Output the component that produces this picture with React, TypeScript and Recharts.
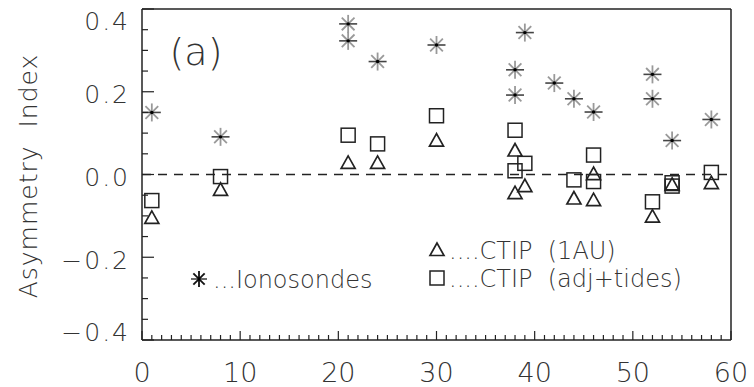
import React from 'react';
import { ScatterChart, Scatter, XAxis, YAxis, ReferenceLine, Customized } from 'recharts';

// latitude-ish bins along x, asymmetry index along y
const ionosondes = [
  { x: 1, y: 0.15 }, { x: 8, y: 0.091 }, { x: 21, y: 0.364 }, { x: 21, y: 0.323 },
  { x: 24, y: 0.273 }, { x: 30, y: 0.313 }, { x: 38, y: 0.253 }, { x: 38, y: 0.192 },
  { x: 39, y: 0.343 }, { x: 42, y: 0.221 }, { x: 44, y: 0.183 }, { x: 46, y: 0.151 },
  { x: 52, y: 0.242 }, { x: 52, y: 0.183 }, { x: 54, y: 0.082 }, { x: 58, y: 0.133 },
];

const ctip1AU = [
  { x: 1, y: -0.105 }, { x: 8, y: -0.037 }, { x: 21, y: 0.028 }, { x: 24, y: 0.028 },
  { x: 30, y: 0.082 }, { x: 38, y: 0.058 }, { x: 38, y: -0.045 }, { x: 39, y: -0.028 },
  { x: 44, y: -0.058 }, { x: 46, y: 0.001 }, { x: 46, y: -0.062 }, { x: 52, y: -0.102 },
  { x: 54, y: -0.025 }, { x: 58, y: -0.021 },
];

const ctipAdjTides = [
  { x: 1, y: -0.063 }, { x: 8, y: -0.005 }, { x: 21, y: 0.095 }, { x: 24, y: 0.074 },
  { x: 30, y: 0.142 }, { x: 38, y: 0.107 }, { x: 38, y: 0.009 }, { x: 39, y: 0.027 },
  { x: 44, y: -0.013 }, { x: 46, y: 0.047 }, { x: 46, y: -0.017 }, { x: 52, y: -0.066 },
  { x: 54, y: -0.02 }, { x: 54, y: -0.028 }, { x: 58, y: 0.005 },
];

const xTicks = Array.from({ length: 61 }, (_, i) => i);
const yTicks = [-0.4, -0.35, -0.3, -0.25, -0.2, -0.15, -0.1, -0.05, 0, 0.05, 0.1, 0.15, 0.2, 0.25, 0.3, 0.35, 0.4];
const yMajor = [-0.4, -0.2, 0, 0.2, 0.4];

const FONT = '"DejaVu Sans", sans-serif';
const INK = '#222';
const TXT = '#333';

const Asterisk = ({ cx, cy, r = 9, arm = '#999' }: any) => {
  const d = r * 0.707;
  return (
    <g>
      <line x1={cx} x2={cx} y1={cy - r} y2={cy + r} stroke={arm} strokeWidth={1.8} />
      <line x1={cx - d} x2={cx + d} y1={cy - d} y2={cy + d} stroke={arm} strokeWidth={1.8} />
      <line x1={cx - d} x2={cx + d} y1={cy + d} y2={cy - d} stroke={arm} strokeWidth={1.8} />
      <line x1={cx - r} x2={cx + r} y1={cy} y2={cy} stroke="#444" strokeWidth={1.6} />
      <circle cx={cx} cy={cy} r={1.7} fill="#000" />
    </g>
  );
};

const Triangle = ({ cx, cy }: any) => (
  <polygon
    points={`${cx},${cy - 7} ${cx - 7},${cy + 5.5} ${cx + 7},${cy + 5.5}`}
    fill="none" stroke={INK} strokeWidth={1.7}
  />
);

const Square = ({ cx, cy }: any) => (
  <rect x={cx - 7} y={cy - 7} width={14} height={14} fill="none" stroke={INK} strokeWidth={1.5} />
);

const BottomTick = ({ x, y, payload }: any) => {
  const major = payload.value % 10 === 0;
  return (
    <g>
      <line x1={x} x2={x} y1={y} y2={y - (major ? 9 : 5)} stroke={INK} strokeWidth={1.2} />
      {major && (
        <text x={x} y={y + 32} textAnchor="middle" dominantBaseline="central"
          fontFamily={FONT} fontWeight={300} fontSize={27} fill={TXT}>
          {payload.value}
        </text>
      )}
    </g>
  );
};

const TopTick = ({ x, y, payload }: any) => {
  const major = payload.value % 10 === 0;
  return <line x1={x} x2={x} y1={y} y2={y + (major ? 9 : 5)} stroke={INK} strokeWidth={1.2} />;
};

const isMajorY = (v: number) => yMajor.some((m) => Math.abs(m - v) < 1e-6);

const LeftTick = ({ x, y, payload }: any) => {
  const major = isMajorY(payload.value);
  const ly = Math.min(Math.max(y + 3, 21), 332);
  return (
    <g>
      <line x1={x} x2={x + (major ? 12 : 6)} y1={y} y2={y} stroke={INK} strokeWidth={1.2} />
      {major && (
        <text x={x - 12} y={ly} textAnchor="end" dominantBaseline="central" letterSpacing={2}
          fontFamily={FONT} fontWeight={300} fontSize={25} fill={TXT}>
          {payload.value.toFixed(1).replace('-', '\u2212')}
        </text>
      )}
    </g>
  );
};

const RightTick = ({ x, y, payload }: any) => {
  const major = isMajorY(payload.value);
  return <line x1={x} x2={x - (major ? 12 : 6)} y1={y} y2={y} stroke={INK} strokeWidth={1.2} />;
};

const Decorations = () => {
  const txt = { fontFamily: FONT, fontWeight: 300, fill: TXT, style: { whiteSpace: 'pre' as const } };
  return (
    <g>
      <text x={37} y={176} transform="rotate(-90 37 176)" textAnchor="middle" fontSize={25}
        letterSpacing={1} {...txt}>
        Asymmetry  Index
      </text>
      <text x={196} y={52} textAnchor="middle" dominantBaseline="central" fontSize={38} {...txt}>(a)</text>
      <g>
        <Asterisk cx={199} cy={279} r={8} arm="#111" />
        <text x={213} y={280} dominantBaseline="central" fontSize={24} {...txt}>...Ionosondes</text>
      </g>
      <g>
        <Triangle cx={437} cy={250} />
        <text x={449} y={251} dominantBaseline="central" fontSize={24} {...txt}>....CTIP  (1AU)</text>
      </g>
      <g>
        <Square cx={437} cy={278} />
        <text x={449} y={279} dominantBaseline="central" fontSize={24} {...txt}>....CTIP  (adj+tides)</text>
      </g>
    </g>
  );
};

export default function App() {
  return (
    <div style={{ position: 'absolute', left: 0, top: 0, width: 754, height: 387, background: '#fff' }}>
      <ScatterChart width={754} height={387} margin={{ top: 8, right: 22, bottom: 46, left: 141 }}>
        <XAxis xAxisId="b" type="number" dataKey="x" domain={[0, 60]} ticks={xTicks} interval={0}
          height={1} tickSize={0} tickMargin={0} tickLine={false} tick={BottomTick}
          axisLine={{ stroke: INK, strokeWidth: 1.5 }} />
        <XAxis xAxisId="t" orientation="top" type="number" dataKey="x" domain={[0, 60]} ticks={xTicks}
          interval={0} height={1} tickSize={0} tickMargin={0} tickLine={false} tick={TopTick}
          axisLine={{ stroke: INK, strokeWidth: 1.5 }} />
        <YAxis yAxisId="l" type="number" dataKey="y" domain={[-0.4, 0.4]} ticks={yTicks} interval={0}
          width={1} tickSize={0} tickMargin={0} tickLine={false} tick={LeftTick}
          axisLine={{ stroke: INK, strokeWidth: 1.5 }} />
        <YAxis yAxisId="r" orientation="right" type="number" dataKey="y" domain={[-0.4, 0.4]} ticks={yTicks}
          interval={0} width={1} tickSize={0} tickMargin={0} tickLine={false} tick={RightTick}
          axisLine={{ stroke: INK, strokeWidth: 1.5 }} />
        <ReferenceLine xAxisId="b" yAxisId="l" y={0} stroke={INK} strokeWidth={1.3} strokeDasharray="9 7" />
        <Scatter name="Ionosondes" xAxisId="b" yAxisId="l" data={ionosondes} shape={Asterisk} isAnimationActive={false} />
        <Scatter name="CTIP (1AU)" xAxisId="b" yAxisId="l" data={ctip1AU} shape={Triangle} isAnimationActive={false} />
        <Scatter name="CTIP (adj+tides)" xAxisId="b" yAxisId="l" data={ctipAdjTides} shape={Square} isAnimationActive={false} />
        <Customized component={Decorations} />
      </ScatterChart>
    </div>
  );
}
